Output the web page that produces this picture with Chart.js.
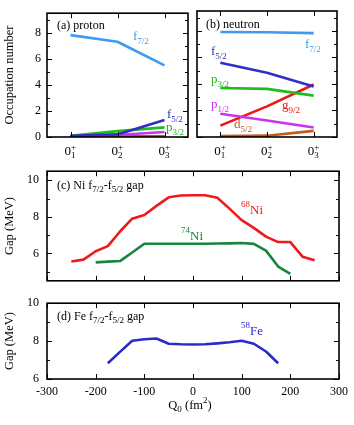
<!DOCTYPE html>
<html>
<head>
<meta charset="utf-8">
<script src="https://cdn.jsdelivr.net/npm/chart.js@4.4.1/dist/chart.umd.min.js"></script>
<style>
  body { margin: 0; background: #fff; }
  canvas { position: absolute; }
</style>
</head>
<body>
<canvas id="protonChart" width="190" height="165" style="left:0;top:0"></canvas>
<canvas id="neutronChart" width="164" height="165" style="left:190px;top:0"></canvas>
<canvas id="niChart" width="354" height="140" style="left:0;top:156px"></canvas>
<canvas id="feChart" width="354" height="137" style="left:0;top:288px"></canvas>
<script>
// 0+ states (subscript index)
const states = ['1', '2', '3'];

// occupation numbers, proton
const protonF72 = [7.82, 7.31, 5.49];
const protonF52 = [0.10, 0.20, 1.30];
const protonP32 = [0.10, 0.45, 0.74];
const protonP12 = [0.05, 0.15, 0.38];
const protonD52 = [0.03, 0.03, 0.04];
const protonG92 = [0.05, 0.05, 0.06];

// occupation numbers, neutron
const neutronF72 = [7.92, 7.90, 7.83];
const neutronF52 = [5.60, 4.85, 3.80];
const neutronP32 = [3.70, 3.63, 3.12];
const neutronP12 = [1.75, 1.24, 0.71];
const neutronD52 = [0.08, 0.10, 0.46];
const neutronG92 = [0.86, 2.31, 3.96];

// f7/2-f5/2 gap vs Q0
const qNi68 = [-250, -225, -200, -175, -150, -125, -100, -75, -50, -25, 0, 25, 50, 75, 100, 125, 150, 175, 200, 225, 250];
const gapNi68 = [5.56, 5.66, 6.12, 6.40, 7.20, 7.90, 8.10, 8.60, 9.07, 9.17, 9.18, 9.18, 9.05, 8.45, 7.82, 7.40, 6.92, 6.62, 6.62, 5.82, 5.62];
const qNi74 = [-200, -175, -150, -125, -100, -75, -50, -25, 0, 25, 50, 75, 100, 125, 150, 175, 200];
const gapNi74 = [5.51, 5.55, 5.58, 6.05, 6.53, 6.53, 6.53, 6.53, 6.53, 6.53, 6.54, 6.55, 6.57, 6.52, 6.15, 5.28, 4.88];
const qFe58 = [-175, -150, -125, -100, -75, -50, -25, 0, 25, 50, 75, 100, 125, 150, 175];
const gapFe58 = [6.83, 7.43, 8.02, 8.10, 8.14, 7.86, 7.83, 7.82, 7.83, 7.88, 7.94, 8.02, 7.86, 7.45, 6.83];

// tick values
const occTicks = [0, 1, 2, 3, 4, 5, 6, 7, 8, 9];
const niGapTicks = [5, 6, 7, 8, 9, 10];
const feGapTicks = [6, 7, 8, 9, 10];
const qTicks = [-300, -200, -100, 0, 100, 200, 300];

const FONT = '"Liberation Serif", "Times New Roman", serif';
Chart.defaults.font.family = FONT;
Chart.defaults.font.size = 12;
Chart.defaults.color = '#000';
Chart.defaults.animation = false;

const colors = {
  f72: '#3d9cf0',
  f52: '#2f2fc8',
  p32: '#1fbb1f',
  p12: '#cc33ee',
  g92: '#ee1515',
  d52: '#c25a1c',
  ni68: '#ee1a1a',
  ni74: '#17843f',
  fe58: '#2b2bc8',
};

function drawRich(ctx, x, y, parts, color, align) {
  ctx.save();
  ctx.fillStyle = color;
  ctx.textBaseline = 'alphabetic';
  ctx.textAlign = 'left';
  if (align === 'center') {
    let w = 0;
    parts.forEach(p => { ctx.font = p[1] + 'px ' + FONT; w += ctx.measureText(p[0]).width; });
    x -= w / 2;
  }
  parts.forEach(p => {
    ctx.font = p[1] + 'px ' + FONT;
    ctx.fillText(p[0], x, y + (p[2] || 0));
    x += ctx.measureText(p[0]).width;
  });
  ctx.restore();
}

function orb(l, j) { return [[l, 13], [j, 9, 4]]; }

const framePlugin = {
  id: 'frame',
  afterDatasetsDraw(chart, args, opts) {
    const { ctx, chartArea: a, scales } = chart;
    const x = scales.x, y = scales.y;
    ctx.save();
    ctx.strokeStyle = '#000';
    ctx.lineWidth = 1;
    ctx.beginPath();
    y.ticks.forEach(t => {
      const len = t.value % 2 === 0 ? 5 : 3;
      const py = Math.round(y.getPixelForValue(t.value)) + 0.5;
      ctx.moveTo(a.left, py); ctx.lineTo(a.left + len, py);
      ctx.moveTo(a.right, py); ctx.lineTo(a.right - len, py);
    });
    const xt = opts.xTicks || x.ticks.map(t => t.value);
    xt.forEach(v => {
      const px = Math.round(x.getPixelForValue(v)) + 0.5;
      ctx.moveTo(px, a.bottom); ctx.lineTo(px, a.bottom - 5);
      ctx.moveTo(px, a.top); ctx.lineTo(px, a.top + 5);
    });
    ctx.stroke();
    ctx.lineWidth = 1.6;
    ctx.strokeRect(a.left, a.top, a.right - a.left, a.bottom - a.top);
    ctx.restore();
  },
  afterDraw(chart, args, opts) {
    const { ctx, chartArea: a, scales } = chart;
    if (opts.states) {
      opts.states.forEach((s, i) => {
        const px = scales.x.getPixelForValue(i + 1);
        drawRich(ctx, px - 6, a.bottom + 18, [['0', 13]], '#000');
        drawRich(ctx, px + 0.5, a.bottom + 13, [['+', 9]], '#000');
        drawRich(ctx, px + 0.5, a.bottom + 21, [[s, 9]], '#000');
      });
    }
    (opts.labels || []).forEach(l => drawRich(ctx, l.x, l.y, l.parts, l.color || '#000', l.align));
  }
};

function line(data, xs, color) {
  return {
    data: data.map((v, i) => ({ x: xs[i], y: v })),
    borderColor: color,
    borderWidth: 2.6,
    pointRadius: 0,
    fill: false,
    tension: 0,
    borderJoinStyle: 'round',
  };
}

function fixedTicks(values) {
  return s => { s.ticks = values.map(v => ({ value: v })); };
}

function panel(id, datasets, box, xScale, yScale, frameOpts) {
  const c = document.getElementById(id);
  const w = c.width, h = c.height;
  xScale.grid = { display: false, drawTicks: false };
  xScale.border = { display: false };
  xScale.afterFit = s => { s.height = h - box.bottom; };
  yScale.grid = { display: false, drawTicks: false };
  yScale.border = { display: false };
  yScale.afterFit = s => { s.width = box.left; };
  return new Chart(c, {
    type: 'line',
    data: { datasets },
    options: {
      responsive: false,
      layout: { padding: { top: box.top, right: w - box.right, left: 0, bottom: 0 } },
      plugins: { legend: { display: false }, tooltip: { enabled: false }, frame: frameOpts },
      scales: { x: xScale, y: yScale },
    },
    plugins: [framePlugin],
  });
}

const evenLabel = v => (v % 2 === 0) ? v : '';
const stateX = states.map((s, i) => i + 1);

// (a) proton
panel('protonChart', [
  line(protonF72, stateX, colors.f72),
  line(protonF52, stateX, colors.f52),
  line(protonP32, stateX, colors.p32),
  line(protonP12, stateX, colors.p12),
  line(protonD52, stateX, colors.d52),
  line(protonG92, stateX, colors.g92),
], { left: 47, top: 11, right: 188, bottom: 137 },
  { type: 'linear', min: 0.5, max: 3.5, ticks: { display: false } },
  { type: 'linear', min: 0, max: 9.5, afterBuildTicks: fixedTicks(occTicks),
    ticks: { autoSkip: false, padding: 6, font: { size: 12 }, callback: evenLabel },
    title: { display: true, text: 'Occupation number', font: { size: 12.5 }, padding: { top: 2, bottom: 0 } } },
  { xTicks: stateX, states,
    labels: [
      { x: 57, y: 29, parts: [['(a) proton', 12]] },
      { x: 133, y: 40, parts: orb('f', '7/2'), color: colors.f72 },
      { x: 167, y: 118, parts: orb('f', '5/2'), color: colors.f52 },
      { x: 166, y: 131, parts: orb('p', '3/2'), color: colors.p32 },
    ] });

// (b) neutron
panel('neutronChart', [
  line(neutronF72, stateX, colors.f72),
  line(neutronF52, stateX, colors.f52),
  line(neutronP32, stateX, colors.p32),
  line(neutronP12, stateX, colors.p12),
  line(neutronD52, stateX, colors.d52),
  line(neutronG92, stateX, colors.g92),
], { left: 7, top: 11, right: 147, bottom: 137 },
  { type: 'linear', min: 0.5, max: 3.5, ticks: { display: false } },
  { type: 'linear', min: 0, max: 9.5, afterBuildTicks: fixedTicks(occTicks), ticks: { display: false } },
  { xTicks: stateX, states,
    labels: [
      { x: 16, y: 28, parts: [['(b) neutron', 12]] },
      { x: 21, y: 55, parts: orb('f', '5/2'), color: colors.f52 },
      { x: 115, y: 48, parts: orb('f', '7/2'), color: colors.f72 },
      { x: 21, y: 83, parts: orb('p', '3/2'), color: colors.p32 },
      { x: 21, y: 108, parts: orb('p', '1/2'), color: colors.p12 },
      { x: 92, y: 109, parts: orb('g', '9/2'), color: colors.g92 },
      { x: 44, y: 128, parts: orb('d', '5/2'), color: colors.d52 },
    ] });

const gapTitle = () => ({ display: true, text: 'Gap (MeV)', font: { size: 12.5 }, padding: { top: 2, bottom: 0 } });
const gapTickOpts = () => ({ autoSkip: false, padding: 8, font: { size: 12 }, callback: evenLabel });

// (c) Ni gap
panel('niChart', [
  line(gapNi68, qNi68, colors.ni68),
  line(gapNi74, qNi74, colors.ni74),
], { left: 47, top: 13, right: 339, bottom: 131 },
  { type: 'linear', min: -300, max: 300, afterBuildTicks: fixedTicks(qTicks), ticks: { display: false } },
  { type: 'linear', min: 4.5, max: 10.5, afterBuildTicks: fixedTicks(niGapTicks),
    ticks: gapTickOpts(), title: gapTitle() },
  { labels: [
      { x: 57, y: 33, parts: [['(c) Ni f', 12], ['7/2', 9, 3], ['-f', 12], ['5/2', 9, 3], [' gap', 12]] },
      { x: 241, y: 58, parts: [['68', 9, -7], ['Ni', 13]], color: colors.ni68 },
      { x: 181, y: 84, parts: [['74', 9, -7], ['Ni', 13]], color: colors.ni74 },
    ] });

// (d) Fe gap
panel('feChart', [
  line(gapFe58, qFe58, colors.fe58),
], { left: 47, top: 12, right: 339, bottom: 91 },
  { type: 'linear', min: -300, max: 300, afterBuildTicks: fixedTicks(qTicks),
    ticks: { padding: 6, autoSkip: false, maxRotation: 0, font: { size: 12 } } },
  { type: 'linear', min: 6, max: 10, afterBuildTicks: fixedTicks(feGapTicks),
    ticks: gapTickOpts(), title: gapTitle() },
  { labels: [
      { x: 57, y: 32, parts: [['(d) Fe f', 12], ['7/2', 9, 3], ['-f', 12], ['5/2', 9, 3], [' gap', 12]] },
      { x: 241, y: 47, parts: [['58', 9, -7], ['Fe', 13]], color: colors.fe58 },
      { x: 190, y: 121, parts: [['Q', 12.5], ['0', 9, 3], [' (fm', 12.5], ['2', 9, -6], [')', 12.5]], align: 'center' },
    ] });
</script>
</body>
</html>
